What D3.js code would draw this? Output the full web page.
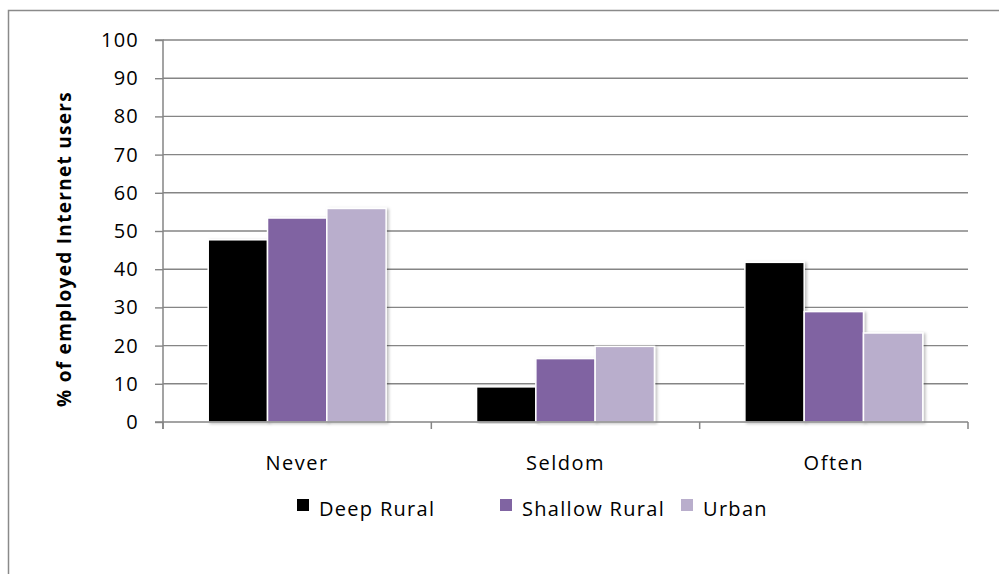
<!DOCTYPE html>
<html>
<head>
<meta charset="utf-8">
<script src="https://cdn.jsdelivr.net/npm/d3@7"></script>
<style>
  html, body { margin: 0; padding: 0; background: #fff; }
  svg { display: block; }
  text { font-family: "Open Sans", "Noto Sans", sans-serif; fill: #000; }
</style>
</head>
<body>
<svg id="chart" width="999" height="574"></svg>
<script>
const categories = ["Never", "Seldom", "Often"];
const seriesNames = ["Deep Rural", "Shallow Rural", "Urban"];
const seriesColors = ["#000000", "#8064a2", "#b9aecc"];
const deepRural = [47.7, 9.2, 41.8];
const shallowRural = [53.4, 16.6, 28.9];
const urban = [55.9, 19.8, 23.3];
const yTicks = [0, 10, 20, 30, 40, 50, 60, 70, 80, 90, 100];
const yLabel = "% of employed Internet users";

const seriesValues = [deepRural, shallowRural, urban];
const data = categories.map((c, i) => ({
  cat: c,
  vals: seriesNames.map((s, j) => ({ s, j, v: seriesValues[j][i] }))
}));

const svg = d3.select("#chart");
const pLeft = 163, pRight = 968, pTop = 40, pBottom = 422;

const defs = svg.append("defs");
const f = defs.append("filter").attr("id", "sh").attr("x", "-20%").attr("y", "-5%").attr("width", "140%").attr("height", "110%");
f.append("feDropShadow").attr("dx", 2).attr("dy", 1).attr("stdDeviation", 1.5).attr("flood-color", "#000").attr("flood-opacity", 0.25);

// outer border
svg.append("path")
  .attr("d", "M8.5,574 L8.5,10.5 L999,10.5")
  .attr("fill", "none").attr("stroke", "#8a8a8a").attr("stroke-width", 1.5);

const y = d3.scaleLinear().domain([0, 100]).range([pBottom, pTop]);
const x0 = d3.scaleBand().domain(categories).range([pLeft, pRight]).paddingInner(0.337).paddingOuter(0.337 / 2);
const x1 = d3.scaleBand().domain(seriesNames).range([0, x0.bandwidth()]);

// gridlines
svg.append("g").selectAll("line").data(yTicks.filter(d => d > 0)).join("line")
  .attr("x1", pLeft).attr("x2", pRight)
  .attr("y1", d => y(d)).attr("y2", d => y(d))
  .attr("stroke", "#858585").attr("stroke-width", 1.4);

// bars
const g = svg.append("g").selectAll("g").data(data).join("g")
  .attr("transform", d => `translate(${x0(d.cat)},0)`);
g.selectAll("rect").data(d => d.vals).join("rect")
  .attr("x", d => x1(d.s))
  .attr("width", x1.bandwidth())
  .attr("y", d => y(d.v))
  .attr("height", d => y(0) - y(d.v))
  .attr("fill", d => seriesColors[d.j])
  .attr("stroke", "#fff").attr("stroke-width", 1.5)
  .attr("filter", "url(#sh)");

// y axis
const yAxis = d3.axisLeft(y).tickValues(yTicks).tickSize(8).tickPadding(16);
const ya = svg.append("g").attr("transform", `translate(${pLeft},0)`).call(yAxis);
ya.select(".domain").attr("stroke", "#858585").attr("stroke-width", 1.5).attr("d", `M-8,${pTop}H0V${pBottom + 7}`);
ya.selectAll(".tick line").attr("stroke", "#858585").attr("stroke-width", 1.4);
ya.selectAll(".tick text").attr("font-size", 20).attr("letter-spacing", 1.2).attr("font-family", "Open Sans").attr("fill", "#000");

// x axis
const xa = svg.append("g");
xa.append("line").attr("x1", pLeft - 8).attr("x2", pRight).attr("y1", pBottom).attr("y2", pBottom)
  .attr("stroke", "#858585").attr("stroke-width", 1.5);
const bounds = categories.map(c => x0(c) - x0.step() * x0.paddingInner() / 2).concat([pRight]);
xa.selectAll("line.tk").data(bounds).join("line").attr("class", "tk")
  .attr("x1", d => d).attr("x2", d => d).attr("y1", pBottom).attr("y2", pBottom + 7)
  .attr("stroke", "#858585").attr("stroke-width", 1.5);
xa.selectAll("text").data(categories).join("text")
  .attr("x", d => x0(d) + x0.bandwidth() / 2).attr("y", 470)
  .attr("text-anchor", "middle").attr("font-size", 20).attr("letter-spacing", 1.5)
  .text(d => d);

// y label
svg.append("text")
  .attr("transform", `translate(71,${(pTop + pBottom) / 2 + 18}) rotate(-90)`)
  .attr("text-anchor", "middle").attr("font-size", 19).attr("font-weight", "bold").attr("letter-spacing", 1.3)
  .text(yLabel);

// legend
const legendX = [297, 500, 681];
const lg = svg.append("g").selectAll("g").data(seriesNames).join("g")
  .attr("transform", (d, i) => `translate(${legendX[i]},0)`);
lg.append("rect").attr("x", 0).attr("y", 499).attr("width", 12).attr("height", 12)
  .attr("fill", (d, i) => seriesColors[i]);
lg.append("text").attr("x", 22).attr("y", 516).attr("font-size", 20).attr("letter-spacing", 1.3).text(d => d);
</script>
</body>
</html>
